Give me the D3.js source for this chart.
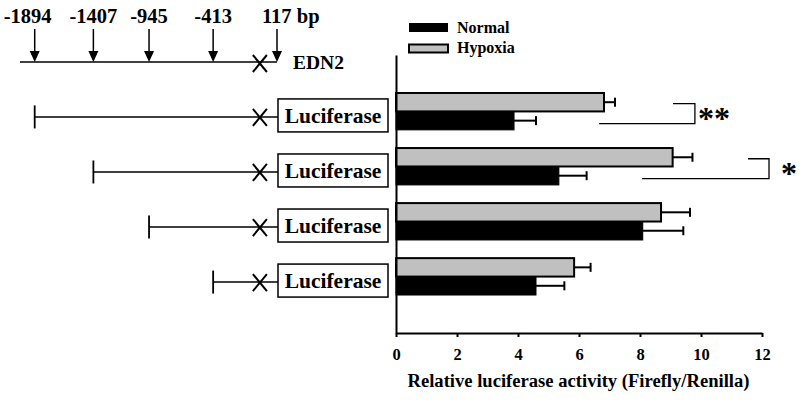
<!DOCTYPE html>
<html>
<head>
<meta charset="utf-8">
<script src="https://cdn.jsdelivr.net/npm/d3@7/dist/d3.min.js"></script>
<style>
  body { margin: 0; background: #fff; }
  svg text { font-family: "Liberation Serif", "Times New Roman", serif; font-weight: bold; }
</style>
</head>
<body>
<svg id="chart" width="800" height="402"></svg>
<script>
// ---- data ----
const constructs = ["-1894", "-1407", "-945", "-413"];
const constructStartBp = [-1894, -1407, -945, -413];
const siteLabels = ["-1894", "-1407", "-945", "-413", "117 bp"];
const siteBp = [-1894, -1407, -945, -413, 117];
const mutationBp = -25;
const geneStartBp = -2016;
const normalValues = [3.87, 5.34, 8.09, 4.59];
const normalErrors = [0.72, 0.91, 1.33, 0.93];
const hypoxiaValues = [6.82, 9.07, 8.69, 5.84];
const hypoxiaErrors = [0.36, 0.65, 0.95, 0.54];
const seriesNames = ["Normal", "Hypoxia"];
const xTicks = [0, 2, 4, 6, 8, 10, 12];
const sigIndex = [0, 1];
const sigLabels = ["**", "*"];
const sigUpperStart = [9.08, 11.54];
const sigCorner = [9.8, 12.23];
const sigLowerStart = [6.66, 8.07];
const xTitle = "Relative luciferase activity (Firefly/Renilla)";

const svg = d3.select("#chart");
const grayFill = "#c0c0c0";

// ---- scales ----
const x = d3.scaleLinear().domain([0, 12]).range([396, 762]);
const y = d3.scaleBand().domain(constructs).range([55, 333]).paddingInner(0.33).paddingOuter(0.69);
const bw = y.bandwidth();
const bp = d3.scaleLinear().domain([geneStartBp, 117]).range([20, 277]);

// ---- bars ----
const g = svg.append("g");
constructs.forEach((c, i) => {
  const y0 = y(c);
  g.append("rect").attr("x", x(0)).attr("y", y0).attr("width", x(hypoxiaValues[i]) - x(0)).attr("height", bw / 2)
    .attr("fill", grayFill).attr("stroke", "#000").attr("stroke-width", 2);
  g.append("rect").attr("x", x(0)).attr("y", y0 + bw / 2).attr("width", x(normalValues[i]) - x(0)).attr("height", bw / 2)
    .attr("fill", "#000").attr("stroke", "#000").attr("stroke-width", 1);
  const eb = [
    { v: hypoxiaValues[i], e: hypoxiaErrors[i], cy: y0 + bw / 4 },
    { v: normalValues[i], e: normalErrors[i], cy: y0 + 3 * bw / 4 }
  ];
  eb.forEach(d => {
    g.append("line").attr("x1", x(d.v)).attr("x2", x(d.v + d.e)).attr("y1", d.cy).attr("y2", d.cy)
      .attr("stroke", "#000").attr("stroke-width", 2);
    g.append("line").attr("x1", x(d.v + d.e)).attr("x2", x(d.v + d.e)).attr("y1", d.cy - 4.5).attr("y2", d.cy + 4.5)
      .attr("stroke", "#000").attr("stroke-width", 2);
  });
});

// ---- significance brackets ----
sigIndex.forEach((gi, k) => {
  const y0 = y(constructs[gi]);
  const yu = y0 + bw / 4 + 1.5;
  const yl = y0 + 3 * bw / 4 + 3;
  const path = d3.path();
  path.moveTo(x(sigUpperStart[k]), yu);
  path.lineTo(x(sigCorner[k]), yu);
  path.lineTo(x(sigCorner[k]), yl);
  path.lineTo(x(sigLowerStart[k]), yl);
  svg.append("path").attr("d", path.toString()).attr("fill", "none").attr("stroke", "#000").attr("stroke-width", 1.3);
  svg.append("text").attr("x", x(sigCorner[k]) + (sigLabels[k].length > 1 ? 3 : 12)).attr("y", (yu + yl) / 2 + 15)
    .attr("font-size", 32).text(sigLabels[k]);
});

// ---- axes ----
const xAxis = d3.axisBottom(x).tickValues(xTicks).tickSize(4).tickSizeOuter(0).tickPadding(11).tickFormat(d3.format("d"));
const xg = svg.append("g").attr("transform", "translate(0,333)").call(xAxis);
xg.select(".domain").attr("stroke-width", 2);
xg.selectAll(".tick line").attr("stroke-width", 2);
xg.selectAll(".tick text").attr("font-size", 16.5).attr("font-family", "Liberation Serif").attr("font-weight", "bold").attr("fill", "#000");

const yAxis = d3.axisLeft(y).tickSize(0).tickSizeOuter(0).tickFormat("");
const yg = svg.append("g").attr("transform", `translate(${x(0)},0)`).call(yAxis);
yg.select(".domain").attr("stroke-width", 2);

svg.append("text").attr("x", 578.5).attr("y", 387).attr("text-anchor", "middle")
  .attr("font-size", 18.6).text(xTitle);

// ---- legend ----
const leg = svg.append("g");
leg.append("rect").attr("x", 409).attr("y", 23).attr("width", 39).attr("height", 9).attr("fill", "#000");
leg.append("rect").attr("x", 409).attr("y", 44.5).attr("width", 39).attr("height", 8).attr("fill", grayFill).attr("stroke", "#000").attr("stroke-width", 2);
leg.append("text").attr("x", 457).attr("y", 33).attr("font-size", 16).text(seriesNames[0]);
leg.append("text").attr("x", 457).attr("y", 53).attr("font-size", 16).text(seriesNames[1]);

// ---- gene diagram (top) ----
const lineY = 62;
const dg = svg.append("g");
dg.append("line").attr("x1", bp(geneStartBp)).attr("x2", bp(117)).attr("y1", lineY).attr("y2", lineY)
  .attr("stroke", "#000").attr("stroke-width", 1.5);
siteBp.forEach((s, i) => {
  const px = bp(s);
  dg.append("line").attr("x1", px).attr("x2", px).attr("y1", 29).attr("y2", 52).attr("stroke", "#000").attr("stroke-width", 1.5);
  dg.append("path").attr("d", `M${px - 5},51 L${px + 5},51 L${px},${lineY} Z`).attr("fill", "#000");
  const isLast = i === siteBp.length - 1;
  dg.append("text").attr("x", isLast ? px - 15 : (i === 0 ? px - 7 : px)).attr("y", 22.5)
    .attr("text-anchor", isLast ? "start" : "middle").attr("font-size", 20.5).text(siteLabels[i]);
});
function drawX(sel, cx, cy) {
  sel.append("line").attr("x1", cx - 7).attr("x2", cx + 7).attr("y1", cy - 8.5).attr("y2", cy + 8.5).attr("stroke", "#000").attr("stroke-width", 2);
  sel.append("line").attr("x1", cx - 7).attr("x2", cx + 7).attr("y1", cy + 8.5).attr("y2", cy - 8.5).attr("stroke", "#000").attr("stroke-width", 2);
}
drawX(dg, bp(mutationBp), lineY + 1.5);
dg.append("text").attr("x", 293).attr("y", 69).attr("font-size", 19.5).text("EDN2");

// ---- construct rows ----
const boxX0 = bp(117) + 1, boxX1 = boxX0 + 110;
constructs.forEach((c, i) => {
  const cy = y(c) + bw / 2 + 4;
  const sx = bp(constructStartBp[i]);
  const rg = svg.append("g");
  rg.append("line").attr("x1", sx).attr("x2", boxX0).attr("y1", cy + 1.5).attr("y2", cy + 1.5).attr("stroke", "#000").attr("stroke-width", 1.5);
  rg.append("line").attr("x1", sx).attr("x2", sx).attr("y1", cy - 10).attr("y2", cy + 13).attr("stroke", "#000").attr("stroke-width", 1.8);
  drawX(rg, bp(mutationBp), cy + 2);
  rg.append("rect").attr("x", boxX0).attr("y", cy - 16.5).attr("width", boxX1 - boxX0).attr("height", 33)
    .attr("fill", "#fff").attr("stroke", "#000").attr("stroke-width", 1.5);
  rg.append("text").attr("x", (boxX0 + boxX1) / 2).attr("y", cy + 7.5).attr("text-anchor", "middle").attr("font-size", 21.5).text("Luciferase");
});
</script>
</body>
</html>
